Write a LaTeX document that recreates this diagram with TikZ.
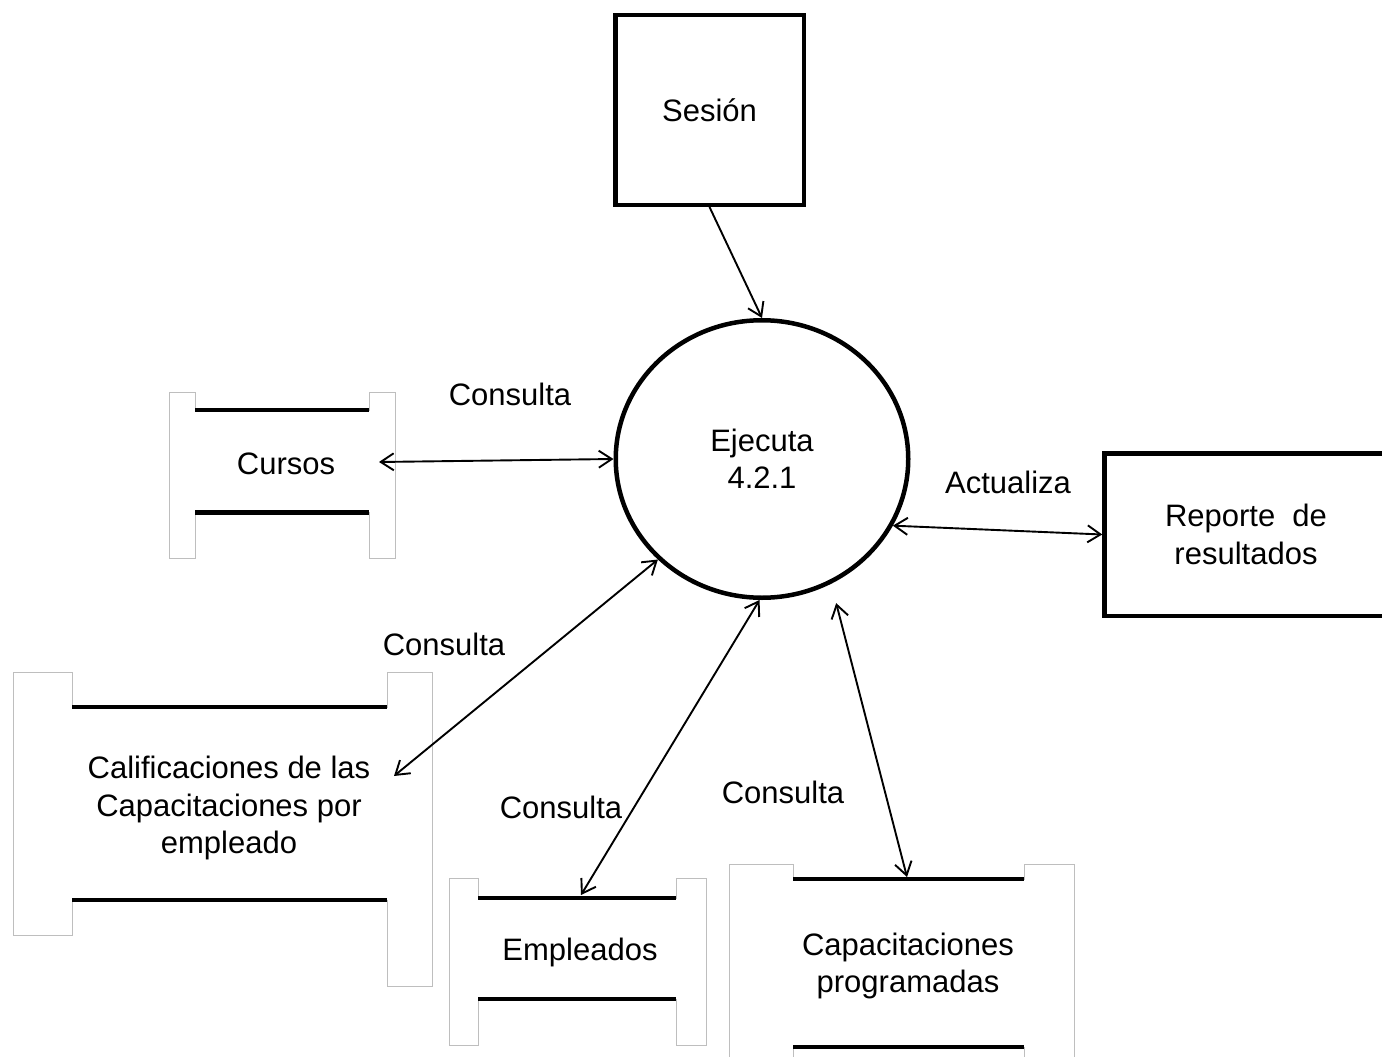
\documentclass[tikz,border=0pt]{standalone}
\usepackage{fontspec}
\setmainfont{Liberation Sans}
\usetikzlibrary{arrows.meta,shapes.geometric}

\definecolor{tabgray}{RGB}{190,190,190}

\tikzset{
  every node/.style={font=\fontsize{31}{37.5}\selectfont, align=center, inner sep=0pt},
  entity/.style={draw, line width=4.5pt},
  process/.style={ellipse, draw, line width=4.5pt,
    minimum width=292.5pt, minimum height=277.5pt},
  storeoutline/.style={draw=tabgray, line width=1pt, fill=white, line join=miter},
  storeline/.style={line width=4.5pt},
  flow/.style={line width=1.9pt, {Straight Barb[length=13pt,width=17pt]}-{Straight Barb[length=13pt,width=17pt]}},
  inflow/.style={line width=1.9pt, -{Straight Barb[length=13pt,width=17pt]}},
  flowtext/.style={},
  storetext/.style={yshift=-3pt}
}

% outline of a data store: left tab, top bar, right tab, bottom bar
% #1 x outer left, #2 x inner left, #3 x inner right, #4 x outer right,
% #5 y top of tabs, #6 y top bar, #7 y bottom bar, #8 y bottom left tab, #9 y bottom right tab
\newcommand\storeshape[9]{%
  \draw[storeoutline] (#1,#5) -- (#2,#5) -- (#2,#6) -- (#3,#6) -- (#3,#5) -- (#4,#5)
    -- (#4,#9) -- (#3,#9) -- (#3,#7) -- (#2,#7) -- (#2,#8) -- (#1,#8) -- cycle;
  \draw[storeline] (#2,#6) -- (#3,#6);
  \draw[storeline] (#2,#7) -- (#3,#7);
}

\begin{document}
\begin{tikzpicture}[x=1pt,y=-1pt]
\useasboundingbox (0,0) rectangle (1382,1057);
\clip (0,0) rectangle (1382,1057);
\fill[white] (0,0) rectangle (1382,1057);

% external entities and the process
\node[entity, minimum width=188.5pt, minimum height=189.5pt] (sesion) at (709.5,110) {\raisebox{-2pt}{Sesión}};
\node[process] (proc) at (762,459) {Ejecuta\\4.2.1};
\node[entity, minimum width=283pt, minimum height=162.5pt] (reporte) at (1246,534.5) {Reporte\ \ de\\resultados};

% data stores
\storeshape{169}{195}{369}{395}{392}{410}{512.5}{558}{558}
\node[storetext] (cursos) at (286,461) {Cursos};

\storeshape{13}{72}{387}{432}{672}{707}{900}{935}{986}
\node[storetext] (calif) at (229,805) {Calificaciones de las\\Capacitaciones por\\empleado};

\storeshape{449}{478}{676}{706}{878}{898}{999}{1045}{1045}
\node[storetext] (empl) at (580,949) {Empleados};

\storeshape{729}{793}{1024}{1074}{864}{879}{1047}{1075}{1075}
\node[storetext] (capprog) at (908,963) {Capacitaciones\\programadas};

% connection points on the data stores
\coordinate (cursos-port) at (379,462);
\coordinate (calif-port) at (394,776);
\coordinate (empl-port) at (581,895);
\coordinate (capprog-port) at (907,877);

% data flows
\draw[inflow] (sesion.south) -- (proc.north);
\draw[flow] (cursos-port) -- (proc.west);
\draw[flow] (proc.-27.5) -- (reporte.west);
\draw[flow] (calif-port) -- (proc.-136);
\draw[flow] (empl-port) -- (proc.-91);
\draw[flow, shorten <=20pt] (proc.-61.5) -- (capprog-port);

% flow labels
\node[flowtext] (t1) at (510,394) {Consulta};
\node[flowtext] (t2) at (1008,482) {Actualiza};
\node[flowtext] (t3) at (444,644) {Consulta};
\node[flowtext] (t4) at (561,807) {Consulta};
\node[flowtext] (t5) at (783,792) {Consulta};
\end{tikzpicture}
\end{document}
